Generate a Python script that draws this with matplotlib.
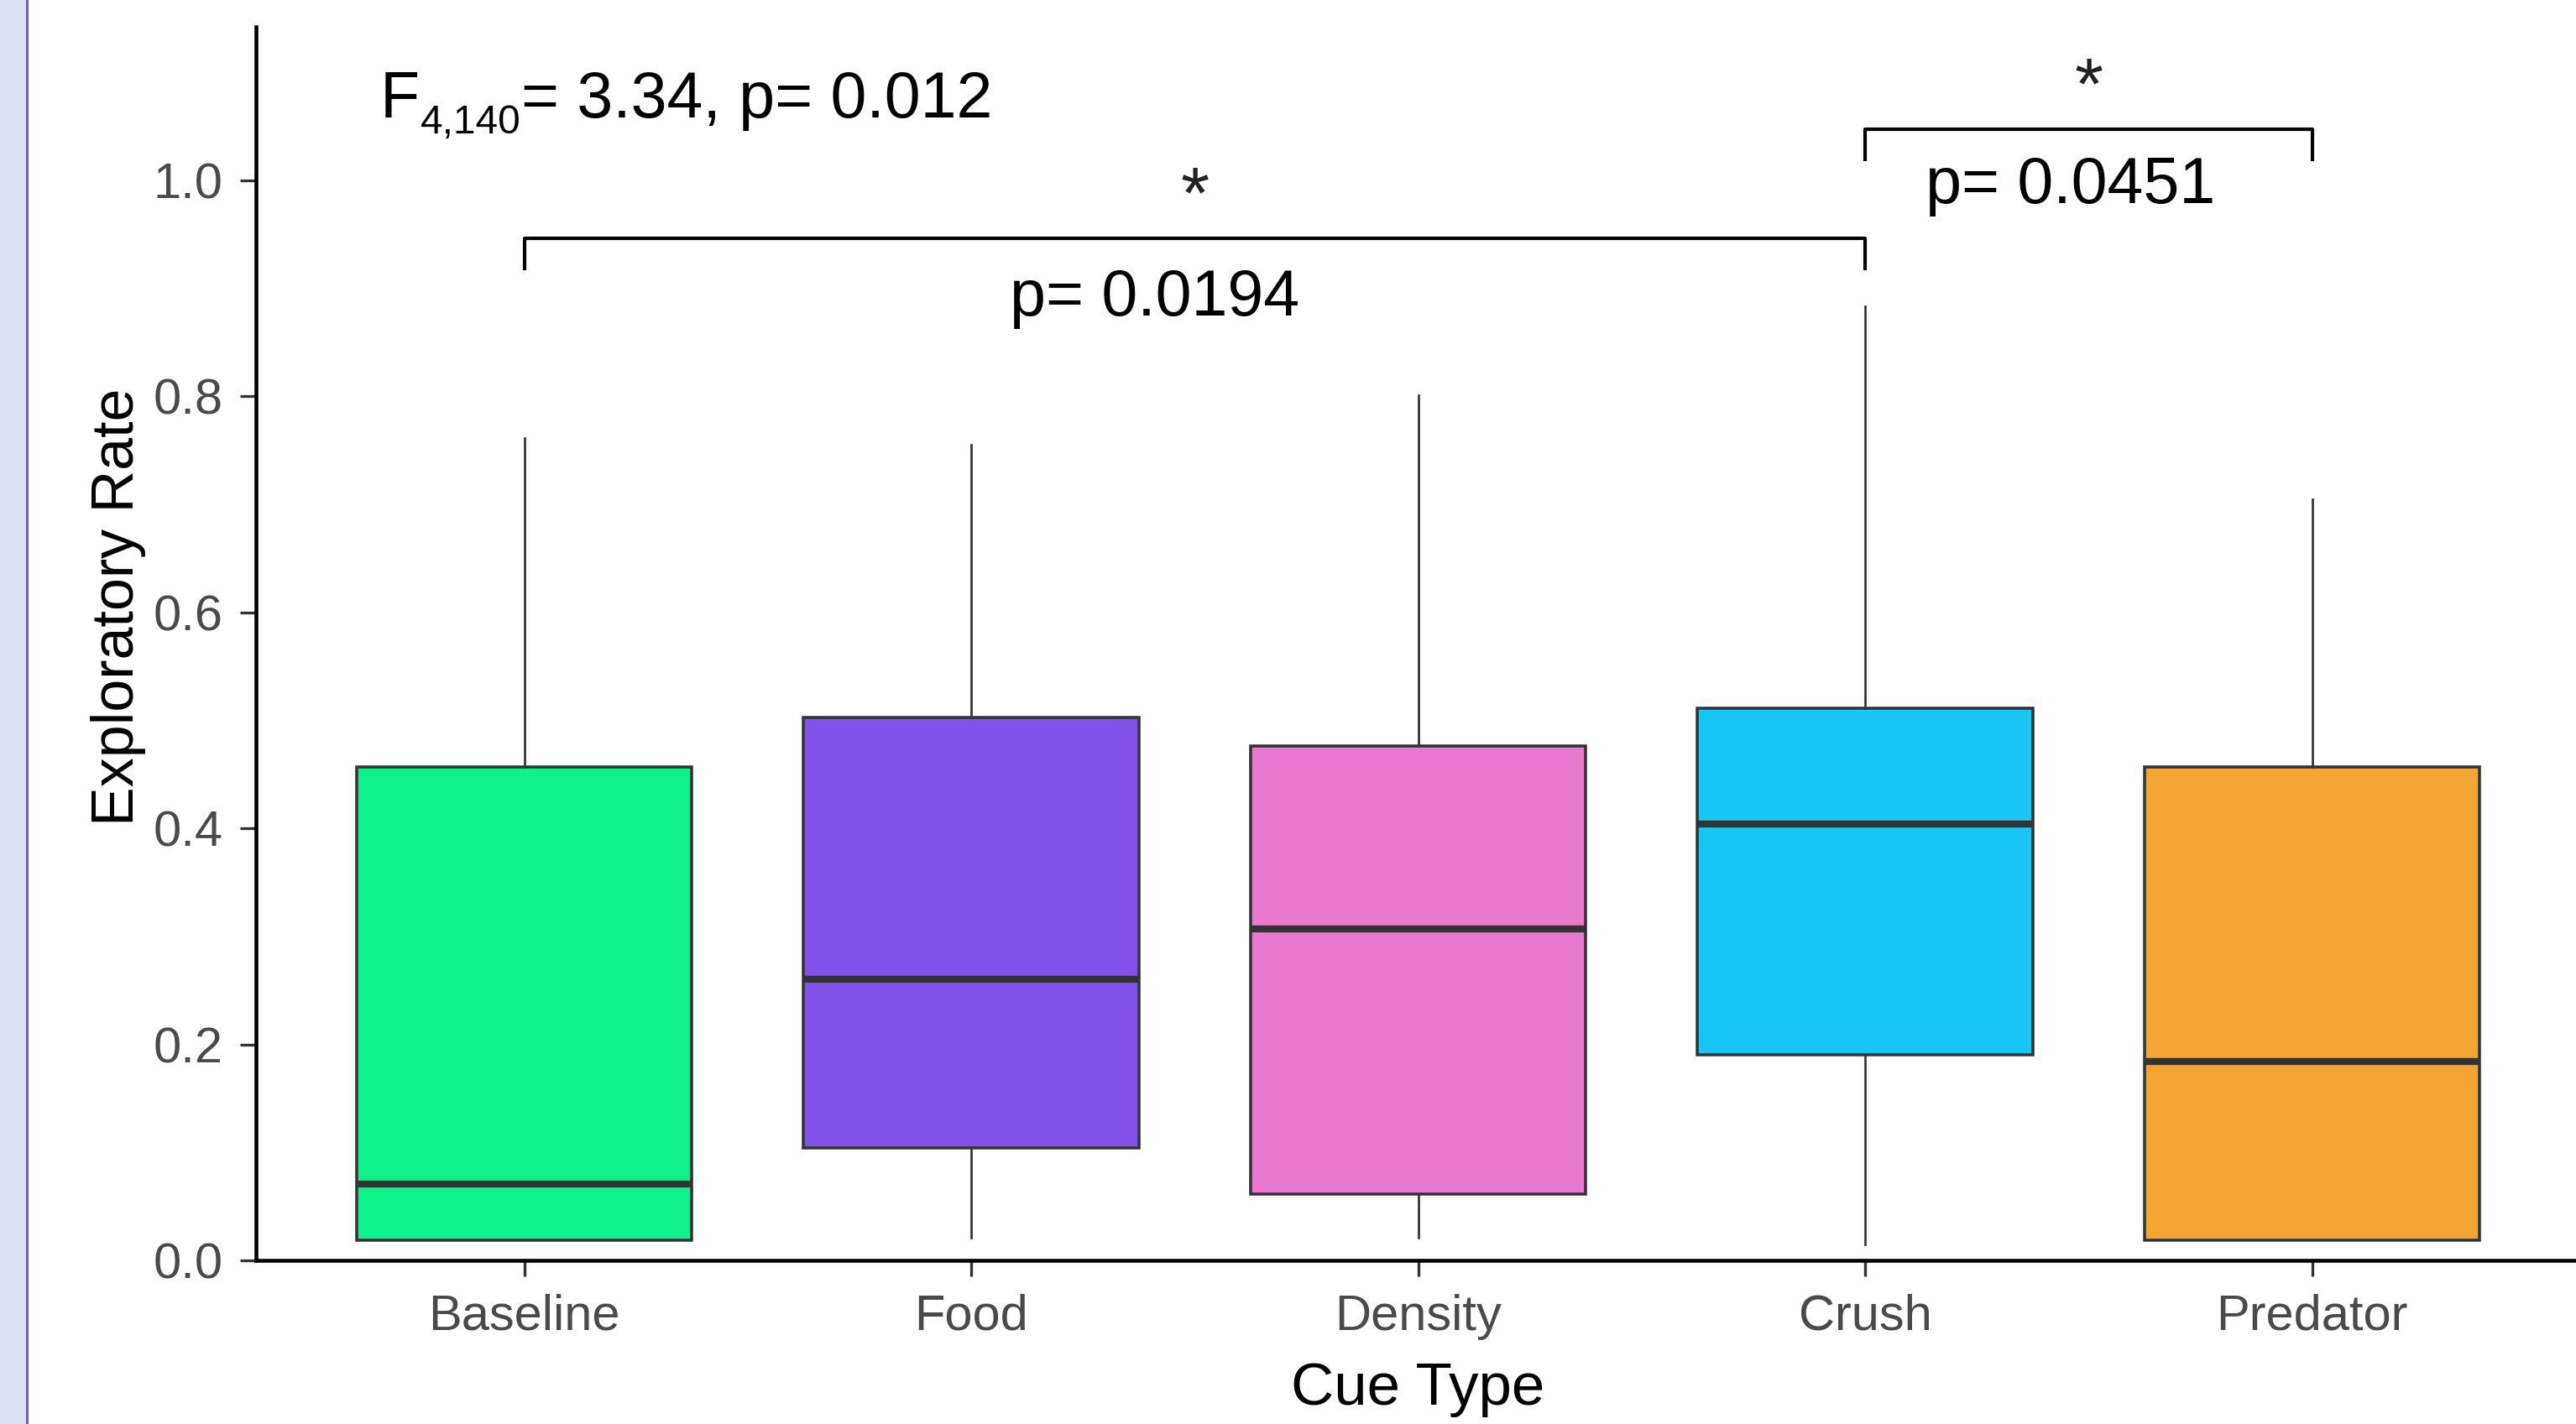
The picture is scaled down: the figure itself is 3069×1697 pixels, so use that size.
import matplotlib
matplotlib.use("Agg")
import matplotlib.pyplot as plt
from matplotlib.patches import Rectangle

# box summary values
cues = ["Baseline", "Food", "Density", "Crush", "Predator"]
whisker_lo = [0.019, 0.021, 0.021, 0.015, 0.019]
q1 = [0.019, 0.104, 0.061, 0.190, 0.019]
median = [0.071, 0.260, 0.307, 0.404, 0.184]
q3 = [0.457, 0.503, 0.476, 0.511, 0.457]
whisker_hi = [0.761, 0.755, 0.801, 0.883, 0.705]
fills = ["#0EF28B", "#8354EB", "#E978CF", "#18C6F6", "#F2A631"]

# pairwise comparisons: (left group, right group, bar height, p text)
pairs = [(0, 3, 0.946, "p= 0.0194"), (3, 4, 1.047, "p= 0.0451")]
p_text_x = [1.41, 3.46]
p_text_base = [0.875, 0.979]

yticks = [0.0, 0.2, 0.4, 0.6, 0.8, 1.0]

narrow = ["Liberation Sans Narrow", "Liberation Sans", "DejaVu Sans"]
plt.rcParams["font.family"] = ["Liberation Sans", "DejaVu Sans"]
ann_size = 18.5

W, H, DPI = 3069, 1697, 300
fig = plt.figure(figsize=(W / DPI, H / DPI), dpi=DPI)
fig.patches.append(Rectangle((0, 0), 32 / W, 1, transform=fig.transFigure,
                             facecolor="#dae1f2", edgecolor="none", zorder=0))
fig.patches.append(Rectangle((31 / W, 0), 3 / W, 1, transform=fig.transFigure,
                             facecolor="#8a4fcf", edgecolor="none", zorder=0))

ax = fig.add_axes([305 / W, 195 / H, 2769 / W, 1470 / H])

stats = []
for i, name in enumerate(cues):
    stats.append(dict(label=name, med=median[i], q1=q1[i], q3=q3[i],
                      whislo=whisker_lo[i], whishi=whisker_hi[i], fliers=[]))

bp = ax.bxp(stats, positions=range(len(cues)), widths=0.75, patch_artist=True,
            showcaps=False, showfliers=False,
            boxprops=dict(edgecolor="#333333", linewidth=0.85),
            medianprops=dict(color="#333333", linewidth=2.0),
            whiskerprops=dict(color="#333333", linewidth=0.65))
for patch, c in zip(bp["boxes"], fills):
    patch.set_facecolor(c)

ax.set_xlim(-0.6, 4.6)
ax.set_ylim(0, 1.142)
ax.set_yticks(yticks)
ax.set_yticklabels([f"{v:.1f}" for v in yticks])
ax.set_xticks(range(len(cues)))
ax.set_xticklabels(cues)

for side in ["top", "right"]:
    ax.spines[side].set_visible(False)
for side in ["left", "bottom"]:
    ax.spines[side].set_color("black")
    ax.spines[side].set_linewidth(1.1)
ax.tick_params(axis="both", length=4.5, width=0.8, color="#333333",
               labelsize=14.3, labelcolor="#4a4a4a", pad=5)

ax.set_xlabel("Cue Type", fontsize=17, color="black")
ax.set_ylabel("Exploratory Rate", fontsize=16.8, color="black")
ax.xaxis.set_label_coords(0.5, -0.082)
ax.yaxis.set_label_coords(-0.0474, 0.53)

# significance brackets
for (a, b, h, _), tx, tb in zip(pairs, p_text_x, p_text_base):
    ax.plot([a, a, b, b], [h - 0.028, h, h, h - 0.028], color="black",
            linewidth=1.0, clip_on=False)
    ax.text((a + b) / 2, h + 0.019, "*", ha="center", va="baseline",
            fontsize=21, color="#222222")
for (_, _, _, label), tx, tb in zip(pairs, p_text_x, p_text_base):
    ax.text(tx, tb, label, ha="center", va="baseline", fontsize=ann_size,
            family=narrow, color="black")

# ANOVA result with a small subscript
t1 = ax.text(-0.323, 1.058, "F", ha="left", va="baseline", fontsize=ann_size,
             family=narrow, color="black")
t2 = ax.annotate("4,140", xy=(1, 0), xycoords=t1, xytext=(0.3, -3),
                 textcoords="offset points", ha="left", va="bottom",
                 fontsize=11.5, family=narrow, color="black")
ax.annotate("= 3.34, p= 0.012", xy=(1, 0), xycoords=(t2, t1), ha="left",
            va="bottom", fontsize=ann_size, family=narrow, color="black")

fig.savefig("out.png", dpi=DPI, facecolor="white")
